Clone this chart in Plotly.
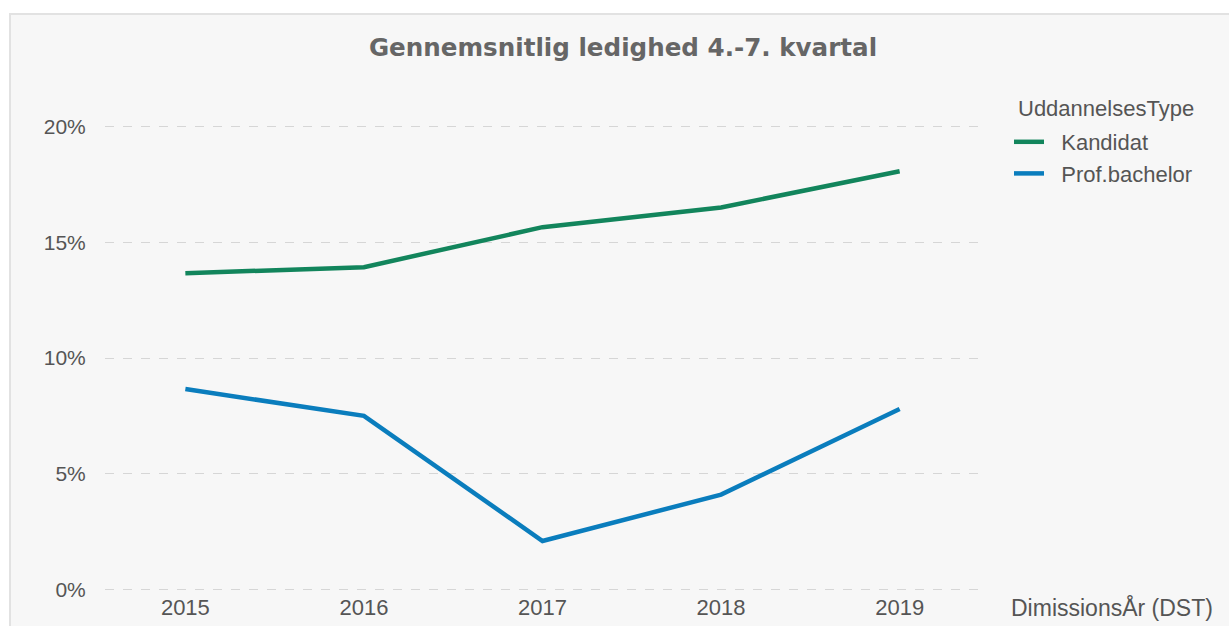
import plotly.graph_objects as go

years = [2015, 2016, 2017, 2018, 2019]
kandidat = [0.1366, 0.1392, 0.1565, 0.1650, 0.1806]
prof_bachelor = [0.0866, 0.0750, 0.0210, 0.0410, 0.0780]
y_ticks = [0, 0.05, 0.10, 0.15, 0.20]
y_tick_labels = ["0%", "5%", "10%", "15%", "20%"]

W, H = 1229, 626
L, R, T, B = 105, 980, 125, 591
pw, ph = R - L, B - T

def px(x):
    return (x - L) / pw

def py(y):
    return (B - y) / ph

nb = "\u00a0"
fig = go.Figure()
fig.add_trace(go.Scatter(x=years, y=kandidat, mode="lines", name=nb * 2 + "Kandidat",
                         line=dict(color="#12855c", width=4.5)))
fig.add_trace(go.Scatter(x=years, y=prof_bachelor, mode="lines", name=nb * 2 + "Prof.bachelor",
                         line=dict(color="#0a7dbd", width=4.5)))

font_family = "Liberation Sans, Arial, sans-serif"
txt = "#555555"

fig.update_layout(
    width=W, height=H,
    margin=dict(l=L, r=W - R, t=T, b=H - B, pad=0, autoexpand=False),
    paper_bgcolor="white",
    plot_bgcolor="#f7f7f7",
    font=dict(family=font_family, size=21, color=txt),
    title=dict(text="<b>Gennemsnitlig ledighed 4.-7. kvartal</b>",
               x=px(623), xanchor="center", xref="paper", y=1 - 47 / H, yanchor="middle",
               font=dict(size=24.6, color="#666666", family="DejaVu Sans, sans-serif")),
    showlegend=True,
    legend=dict(x=px(1009), xanchor="left", y=py(121), yanchor="top",
                bgcolor="rgba(0,0,0,0)", font=dict(size=22, color=txt),
                itemwidth=30, tracegroupgap=0),
    xaxis=dict(range=[2014.55, 2019.45], tickvals=years, ticktext=[str(y) for y in years],
               showgrid=False, zeroline=False, showline=False, automargin=False,
               ticks="", ticklabelstandoff=1,
               tickfont=dict(size=22, color=txt)),
    yaxis=dict(range=[-0.0006, 0.2006], tickvals=y_ticks, ticktext=y_tick_labels,
               showgrid=True, gridcolor="#d6d6d6", griddash="dash", gridwidth=1,
               zeroline=False, showline=False, automargin=False,
               ticks="outside", ticklen=14, tickcolor="rgba(0,0,0,0)",
               tickfont=dict(size=21, color=txt)),
)

# Card background
fig.add_shape(type="rect", xref="paper", yref="paper", layer="below",
              x0=px(10), x1=px(1240), y0=py(640), y1=py(14),
              fillcolor="#f7f7f7", line=dict(color="#e2e2e2", width=2))

fig.add_annotation(text="UddannelsesType", xref="paper", yref="paper",
                   x=px(1016), y=py(108), xanchor="left", yanchor="middle",
                   showarrow=False, font=dict(size=22, color=txt))

fig.add_annotation(text="DimissionsÅr (DST)", xref="paper", yref="paper",
                   x=px(1009), y=py(607), xanchor="left", yanchor="middle",
                   showarrow=False, font=dict(size=23, color=txt))

fig.write_html("out.html", config={"displayModeBar": False},
               post_script="document.body.style.margin='0';document.body.style.overflow='hidden';")
